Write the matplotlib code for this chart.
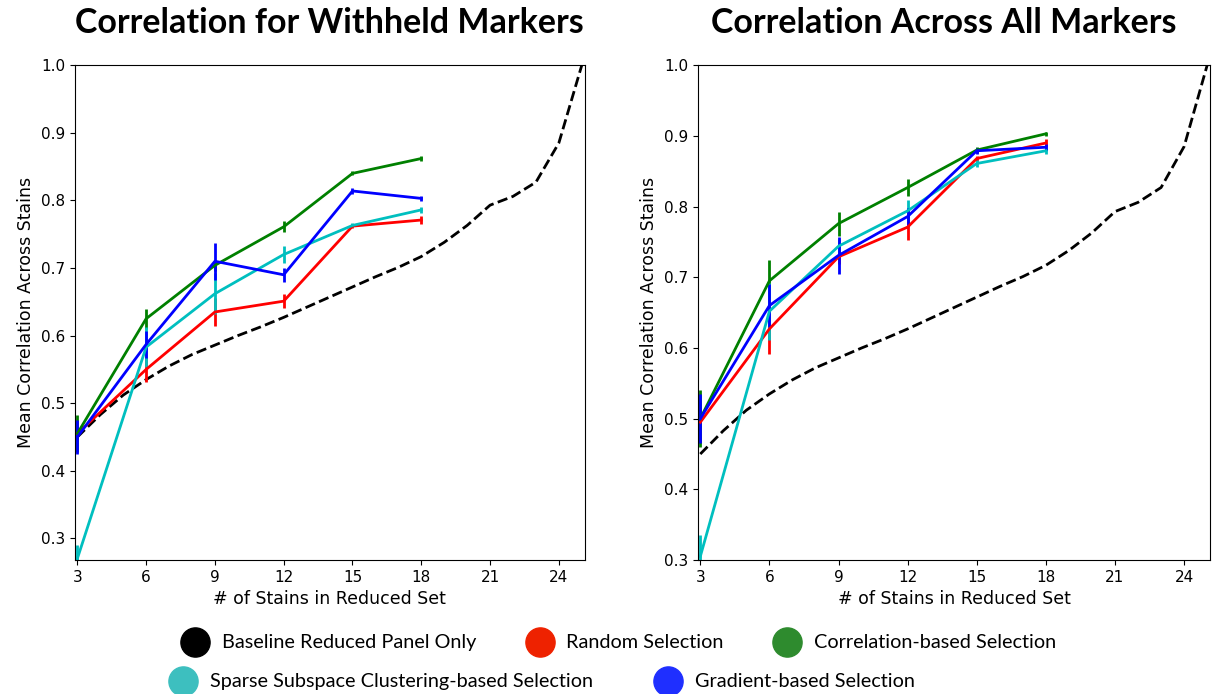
import matplotlib.pyplot as plt
from matplotlib.lines import Line2D
import numpy as np

# baseline curve (every panel size from 3 to 25)
base_x = list(range(3, 26))
base_y = [0.450, 0.483, 0.512, 0.535, 0.555, 0.572, 0.586, 0.600, 0.613, 0.627, 0.642, 0.657,
          0.672, 0.687, 0.701, 0.717, 0.738, 0.763, 0.793, 0.806, 0.827, 0.885, 1.000]

stains = [3, 6, 9, 12, 15, 18]

# withheld markers
wh_random = [0.455, 0.550, 0.635, 0.651, 0.762, 0.771]
wh_random_err = [0.010, 0.018, 0.021, 0.010, 0.003, 0.006]
wh_corr = [0.455, 0.625, 0.704, 0.761, 0.840, 0.862]
wh_corr_err = [0.027, 0.015, 0.008, 0.008, 0.003, 0.003]
wh_ssc = [0.270, 0.583, 0.662, 0.720, 0.763, 0.786]
wh_ssc_err = [0.020, 0.030, 0.030, 0.012, 0.003, 0.004]
wh_grad = [0.450, 0.587, 0.710, 0.690, 0.814, 0.803]
wh_grad_err = [0.025, 0.020, 0.027, 0.010, 0.004, 0.004]

# all markers
all_random = [0.495, 0.627, 0.729, 0.771, 0.868, 0.890]
all_random_err = [0.030, 0.035, 0.010, 0.018, 0.004, 0.005]
all_corr = [0.500, 0.695, 0.776, 0.827, 0.880, 0.903]
all_corr_err = [0.040, 0.030, 0.017, 0.012, 0.004, 0.003]
all_ssc = [0.305, 0.652, 0.744, 0.794, 0.861, 0.879]
all_ssc_err = [0.030, 0.040, 0.010, 0.015, 0.005, 0.004]
all_grad = [0.500, 0.660, 0.731, 0.786, 0.879, 0.884]
all_grad_err = [0.035, 0.030, 0.026, 0.012, 0.004, 0.004]

labels = ["Baseline Reduced Panel Only", "Random Selection", "Correlation-based Selection",
          "Sparse Subspace Clustering-based Selection", "Gradient-based Selection"]
legend_colors = ["#000000", "#ee2200", "#2e8b2e", "#3dbfbf", "#1f2fff"]


def draw_panel(ax, rnd, rnd_e, cor, cor_e, ssc, ssc_e, grd, grd_e, title, ylo, tx):
    ax.plot(base_x, base_y, 'k--', lw=2)
    ax.errorbar(stains, rnd, yerr=rnd_e, color='r', lw=2, elinewidth=2, capsize=0)
    ax.errorbar(stains, cor, yerr=cor_e, color='g', lw=2, elinewidth=2, capsize=0)
    ax.errorbar(stains, ssc, yerr=ssc_e, color='c', lw=2, elinewidth=2, capsize=0)
    ax.errorbar(stains, grd, yerr=grd_e, color='b', lw=2, elinewidth=2, capsize=0)
    ax.set_xlim(2.9, 25.12)
    ax.set_ylim(ylo, 1.0)
    ax.set_xticks(range(3, 25, 3))
    ax.tick_params(labelsize=11)
    ax.set_xlabel("# of Stains in Reduced Set", fontsize=12.5)
    ax.set_ylabel("Mean Correlation Across Stains", fontsize=12.5)
    ax.set_title(title, fontsize=24.5, fontweight='bold', family='Lato', pad=23, x=tx)


fig = plt.figure(figsize=(12.16, 6.94), dpi=100)
ax1 = fig.add_axes([0.0617, 0.193, 0.419, 0.713])
ax2 = fig.add_axes([0.574, 0.193, 0.421, 0.713])

draw_panel(ax1, wh_random, wh_random_err, wh_corr, wh_corr_err, wh_ssc, wh_ssc_err,
           wh_grad, wh_grad_err, "Correlation for Withheld Markers", 0.268, 0.5)
draw_panel(ax2, all_random, all_random_err, all_corr, all_corr_err, all_ssc, all_ssc_err,
           all_grad, all_grad_err, "Correlation Across All Markers", 0.3, 0.48)

handles = [Line2D([], [], ls='none', marker='o', markersize=21, color=c) for c in legend_colors]
leg_font = {'family': 'Lato', 'size': 14.3}
fig.legend(handles[:3], labels[:3], ncol=3, loc='center', bbox_to_anchor=(0.5095, 0.0735),
           frameon=False, prop=leg_font, columnspacing=2.6,
           handletextpad=0.75, handlelength=1.2)
fig.legend(handles[3:], labels[3:], ncol=2, loc='center', bbox_to_anchor=(0.4465, 0.0173),
           frameon=False, prop=leg_font, columnspacing=3.15,
           handletextpad=0.75, handlelength=1.2)

fig.savefig("out.png", dpi=100)
